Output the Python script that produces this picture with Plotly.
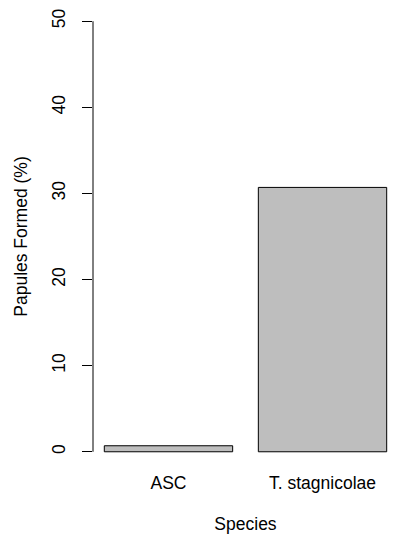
import plotly.graph_objects as go

categories = ["ASC", "T. stagnicolae"]
papules_pct = [0.7, 30.7]
y_ticks = [0, 10, 20, 30, 40, 50]

FONT = "Liberation Sans, Arial, sans-serif"
FS = 17.5

fig = go.Figure()
fig.add_trace(go.Bar(
    x=categories,
    y=papules_pct,
    width=[1 / 1.2] * len(categories),
    marker=dict(color="#bebebe", line=dict(color="black", width=1)),
    showlegend=False,
))

fig.update_layout(
    width=404, height=550,
    margin=dict(l=93, r=6, t=4, b=81),
    plot_bgcolor="white", paper_bgcolor="white",
    font=dict(family=FONT, size=FS, color="black"),
    xaxis=dict(
        type="category",
        range=[-0.49, 1.49],
        automargin=False,
        showline=False, showgrid=False, zeroline=False, ticks="",
        tickfont=dict(size=FS),
        ticklabelstandoff=1,
        title=dict(text="Species", font=dict(size=FS), standoff=26),
    ),
    yaxis=dict(
        range=[-2, 52],
        automargin=False,
        tickvals=y_ticks,
        ticktext=[str(v) for v in y_ticks],
        tickangle=-90,
        ticks="outside", ticklen=10, tickwidth=1, tickcolor="black",
        ticklabelstandoff=10,
        showline=False, showgrid=False, zeroline=False,
        tickfont=dict(size=FS),
        title=dict(text="Papules Formed (%)", font=dict(size=FS), standoff=16),
    ),
    shapes=[dict(type="line", xref="paper", yref="y", x0=0, x1=0,
                 y0=min(y_ticks), y1=max(y_ticks),
                 line=dict(color="black", width=1))],
)

fig.write_html("out.html", config={"displayModeBar": False},
               post_script="document.body.style.margin='0';")
